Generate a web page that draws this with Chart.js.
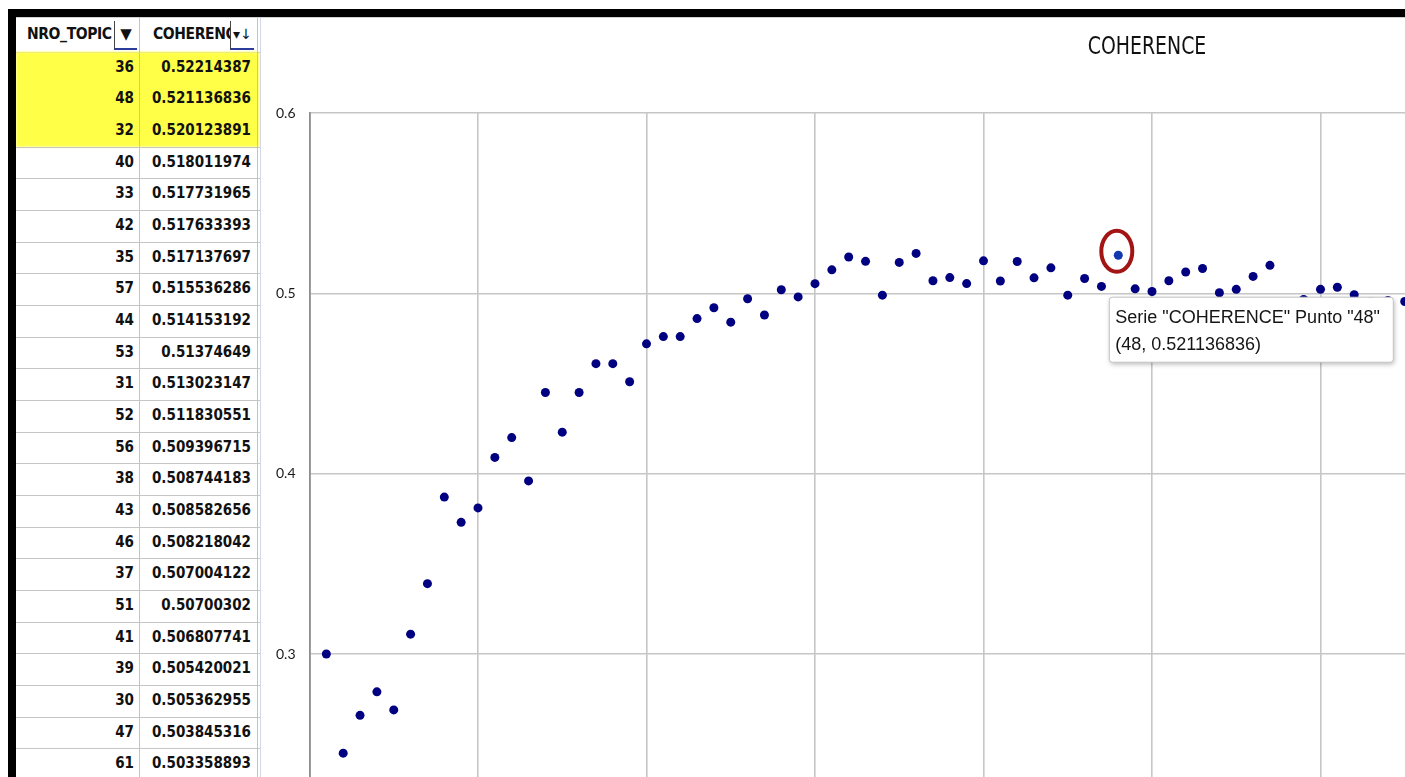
<!DOCTYPE html>
<html>
<head>
<meta charset="utf-8">
<script src="https://cdn.jsdelivr.net/npm/chart.js@4/dist/chart.umd.min.js"></script>
<style>
  html, body { margin: 0; padding: 0; width: 1405px; height: 777px; overflow: hidden; background: #fff; }
  .abs { position: absolute; }
  #frameTop { left: 8px; top: 9px; width: 1397px; height: 8px; background: #000; z-index: 5; }
  #frameLeft { left: 8px; top: 9px; width: 8px; height: 768px; background: #000; z-index: 5; }
  #topRule { left: 16px; top: 17px; width: 1389px; height: 1px; background: #cfcfcf; z-index: 4; }
  #chartWrap { left: 262px; top: 17px; width: 1770px; height: 1230px; }
  .cell { font-family: "DejaVu Sans Condensed", "DejaVu Sans", sans-serif; font-weight: bold; font-size: 15px; color: #111; white-space: nowrap; overflow: hidden; z-index: 3; }
  .hdr { font-size: 15.5px; letter-spacing: -0.4px; }
  .btn { background: #fff; border-left: 1px solid #444; border-bottom: 2px solid #2a3c9c; box-sizing: border-box; text-align: center; font-family: "DejaVu Sans", sans-serif; color: #111; z-index: 4; }
  .rowLine { height: 1px; background: #c6c6c6; z-index: 2; }
  .colLine { width: 1px; background: #c4c4c4; z-index: 2; }
</style>
</head>
<body>
<div id="frameTop" class="abs"></div>
<div id="frameLeft" class="abs"></div>
<div id="topRule" class="abs"></div>
<div id="sheet"></div>
<div id="chartWrap" class="abs"><canvas id="chart" width="1770" height="1230"></canvas></div>

<script>
// Number of topics and the coherence score measured for each one
const TOPICS = [
   1,  2,  3,  4,  5,  6,  7,  8,  9, 10,
  11, 12, 13, 14, 15, 16, 17, 18, 19, 20,
  21, 22, 23, 24, 25, 26, 27, 28, 29, 30,
  31, 32, 33, 34, 35, 36, 37, 38, 39, 40,
  41, 42, 43, 44, 45, 46, 47, 48, 49, 50,
  51, 52, 53, 54, 55, 56, 57, 58, 59, 60,
  61, 62, 63, 64, 65
];
const COHERENCE = [
  0.300, 0.245, 0.266, 0.279, 0.269, 0.311, 0.339, 0.387, 0.373, 0.381,
  0.409, 0.420, 0.396, 0.445, 0.423, 0.445, 0.461, 0.461, 0.451, 0.472,
  0.476, 0.476, 0.486, 0.492, 0.484, 0.497, 0.488, 0.502, 0.498, 0.505362955,
  0.513023147, 0.520123891, 0.517731965, 0.499, 0.517137697, 0.52214387, 0.507004122, 0.508744183, 0.505420021, 0.518011974,
  0.506807741, 0.517633393, 0.508582656, 0.514153192, 0.499, 0.508218042, 0.503845316, 0.521136836, 0.5025, 0.501,
  0.50700302, 0.511830551, 0.51374649, 0.5003, 0.5022, 0.509396715, 0.515536286, 0.4935, 0.4966, 0.5022,
  0.503358893, 0.4992, 0.4955, 0.496, 0.4955
];
const SERIES_LABEL = 'COHERENCE';
const COLUMN_HEADERS = ['NRO_TOPIC', 'COHERENCE'];
const SELECTED_TOPIC = 48;
const TABLE_ROWS = 23;
const HIGHLIGHT_ROWS = 3;
const X_RANGE = [0, 100];
const Y_RANGE = [0, 0.6];

// ---------- sorted sheet on the left ----------
(function buildSheet() {
  const sheet = document.getElementById('sheet');
  const add = (cls, style, text) => {
    const d = document.createElement('div');
    d.className = 'abs ' + cls;
    Object.assign(d.style, style);
    if (text !== undefined) d.textContent = text;
    sheet.appendChild(d);
    return d;
  };
  const rows = TOPICS.map((t, i) => ({ t, v: COHERENCE[i] }))
    .sort((a, b) => b.v - a.v)
    .slice(0, TABLE_ROWS);

  const headTop = 17, headBottom = 51.7, pitch = 31.67;

  // header
  add('', { left: '16px', top: headTop + 'px', width: '243px', height: (headBottom - headTop) + 'px', background: '#fff', zIndex: 1 });
  add('cell hdr', { left: '27px', top: headTop + 'px', width: '88px', height: '35px', lineHeight: '35px' }, COLUMN_HEADERS[0]);
  add('btn', { left: '114px', top: '21px', width: '23px', height: '29px', lineHeight: '27px', fontSize: '15px' }, '\u25BC');
  add('cell hdr', { left: '153px', top: headTop + 'px', width: '78px', height: '35px', lineHeight: '35px' }, COLUMN_HEADERS[1]);
  add('btn', { left: '230px', top: '21px', width: '24px', height: '29px', lineHeight: '27px', fontSize: '14px' }, '\u25BE\u2193');

  // highlighted best results
  add('', { left: '16px', top: '52px', width: '243px', height: (pitch * HIGHLIGHT_ROWS - 0.5) + 'px', background: '#ffff48', zIndex: 2, filter: 'blur(0.8px)' });

  rows.forEach((r, i) => {
    const top = headBottom + i * pitch;
    add('cell', { left: '16px', top: top + 'px', width: '118px', height: pitch + 'px', lineHeight: pitch + 'px', textAlign: 'right' }, String(r.t));
    add('cell', { left: '139px', top: top + 'px', width: '112px', height: pitch + 'px', lineHeight: pitch + 'px', textAlign: 'right' }, String(r.v));
    if (i >= HIGHLIGHT_ROWS - 1) add('rowLine', { left: '16px', top: (top + pitch) + 'px', width: '245px' });
  });
  add('rowLine', { left: '16px', top: headBottom + 'px', width: '245px', zIndex: 1 });
  add('colLine', { left: '139px', top: '17px', height: '760px' });
  add('colLine', { left: '257px', top: '17px', height: '760px' });
  add('colLine', { left: '260px', top: '17px', height: '760px', background: '#d3d7ea' });
})();

// ---------- chart title, centred on the whole chart object ----------
const centredTitle = {
  id: 'centredTitle',
  afterDraw(chart) {
    const ctx = chart.ctx;
    ctx.save();
    ctx.translate(chart.width / 2, 30.5);
    ctx.scale(1, 1.15);
    ctx.font = '21px "DejaVu Sans Condensed", "DejaVu Sans", sans-serif';
    ctx.fillStyle = '#111';
    ctx.textAlign = 'center';
    ctx.textBaseline = 'middle';
    ctx.fillText(SERIES_LABEL, 0, 0);
    ctx.restore();
  }
};

// ---------- selected point: red ring and info box ----------
const selectionCallout = {
  id: 'selectionCallout',
  afterDatasetsDraw(chart) {
    const idx = TOPICS.indexOf(SELECTED_TOPIC);
    if (idx < 0) return;
    const pt = chart.getDatasetMeta(0).data[idx];
    const { x, y } = pt.getProps(['x', 'y'], true);
    const ctx = chart.ctx;
    ctx.save();

    // ring
    ctx.beginPath();
    ctx.ellipse(x - 1.5, y - 4, 15.5, 20.5, 0, 0, Math.PI * 2);
    ctx.lineWidth = 4;
    ctx.strokeStyle = '#a31414';
    ctx.stroke();

    // info box
    const bx = x - 9, by = y + 42, bw = 284, bh = 65;
    ctx.shadowColor = 'rgba(0,0,0,0.28)';
    ctx.shadowBlur = 5;
    ctx.shadowOffsetX = 1;
    ctx.shadowOffsetY = 2;
    ctx.beginPath();
    ctx.roundRect(bx, by, bw, bh, 3);
    ctx.fillStyle = '#ffffff';
    ctx.fill();
    ctx.shadowColor = 'transparent';
    ctx.lineWidth = 1;
    ctx.strokeStyle = '#c4c4c4';
    ctx.stroke();

    ctx.fillStyle = '#151515';
    ctx.font = '18px "Liberation Sans", Arial, sans-serif';
    ctx.textBaseline = 'middle';
    ctx.textAlign = 'left';
    ctx.fillText('Serie "' + SERIES_LABEL + '" Punto "' + SELECTED_TOPIC + '"', bx + 6, by + 21);
    ctx.fillText('(' + SELECTED_TOPIC + ', ' + COHERENCE[idx] + ')', bx + 6, by + 48);
    ctx.restore();
  }
};

// ---------- scatter chart ----------
const points = TOPICS.map((t, i) => ({ x: t, y: COHERENCE[i] }));
const pointColors = TOPICS.map(t => (t === SELECTED_TOPIC ? '#1238b0' : '#000080'));
const gridStyle = { color: '#c6c6c6', lineWidth: 1.6, drawTicks: false };

new Chart(document.getElementById('chart'), {
  type: 'scatter',
  data: {
    datasets: [{
      label: SERIES_LABEL,
      data: points,
      pointRadius: 4.5,
      pointBorderWidth: 0,
      pointBorderColor: 'rgba(0,0,0,0)',
      pointBackgroundColor: pointColors
    }]
  },
  options: {
    responsive: false,
    animation: false,
    events: [],
    layout: { padding: { left: 14, right: 37.5, top: 96, bottom: 0 } },
    plugins: {
      legend: { display: false },
      tooltip: { enabled: false },
      title: { display: false }
    },
    scales: {
      x: {
        type: 'linear',
        min: X_RANGE[0],
        max: X_RANGE[1],
        ticks: { stepSize: 10, color: '#222', font: { family: 'Lato, sans-serif', size: 14 } },
        grid: gridStyle,
        border: { display: false },
        afterFit(scale) { scale.height = 52; }
      },
      y: {
        min: Y_RANGE[0],
        max: Y_RANGE[1],
        ticks: {
          stepSize: 0.1,
          crossAlign: 'far',
          color: '#1a1a1a',
          font: { family: 'Lato, sans-serif', size: 14 },
          callback: v => String(Number(v.toFixed(1)))
        },
        grid: gridStyle,
        border: { color: '#8e8e8e', width: 1.8 },
        afterFit(scale) { scale.width = 33.5; }
      }
    }
  },
  plugins: [centredTitle, selectionCallout]
});
</script>
</body>
</html>
